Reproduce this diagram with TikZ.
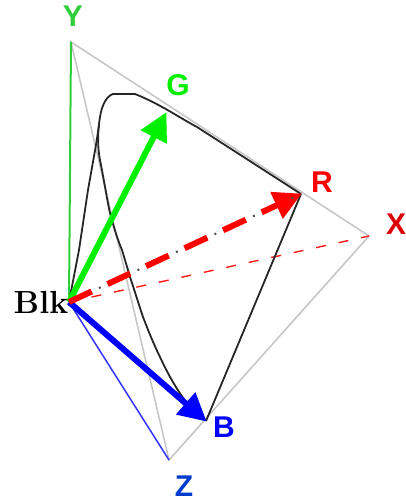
\documentclass[tikz,border=0pt]{standalone}
\usepackage{fontspec}
\setsansfont{Liberation Sans}
\usetikzlibrary{arrows.meta}
\definecolor{axisgreen}{RGB}{50,205,60}
\definecolor{axisred}{RGB}{220,0,10}
\definecolor{axisblue}{RGB}{0,60,205}
\definecolor{brightgreen}{RGB}{0,240,0}
\begin{document}
\begin{tikzpicture}[
  x=1pt, y=-1pt,
  letter/.style={font=\sffamily\bfseries\fontsize{30}{30}\selectfont, inner sep=0pt},
  edge/.style={line width=1.6pt, black!22},
  locus/.style={line width=1.8pt, black!85, line join=round},
  primary/.style={line width=6pt, -{Triangle[length=28pt,width=28pt]}, shorten >=-1pt}
]
  \useasboundingbox (0,0) rectangle (405,502);

  \coordinate (blk) at (69,302);
  \coordinate (yy) at (71,42);
  \coordinate (xx) at (369,236);
  \coordinate (zz) at (169,460);
  \coordinate (rr) at (301,194);
  \coordinate (gg) at (166,113);
  \coordinate (bb) at (206,421);

  % tristimulus triangle
  \draw[edge] (yy) -- (xx) -- (zz) -- cycle;
  \draw[line width=2pt, axisgreen] (blk) -- (yy);
  \draw[line width=1.4pt, red!90, dash pattern=on 10pt off 13pt] (blk) -- (xx);
  \draw[line width=1.5pt, blue!80] (blk) -- (zz);

  % spectrum locus
  \draw[locus] (blk) -- (79,250) -- (88,190) -- (96,145) -- (99,125);
  \draw[locus] (rr) -- (bb);
  \draw[locus] (rr) -- (197,127) .. controls (180,118) and (160,104) .. (135,94)
    -- (113,94) .. controls (107,96) and (102,104) .. (100,117)
    .. controls (97,135) and (98,150) .. (100,160)
    .. controls (104,180) and (108,205) .. (110,213)
    .. controls (115,232) and (119,243) .. (122,250)
    .. controls (125,260) and (128,270) .. (130,277)
    .. controls (135,292) and (139,305) .. (143,317)
    .. controls (148,330) and (154,345) .. (160,357)
    .. controls (167,372) and (175,387) .. (186,402);

  % primaries
  \draw[primary, brightgreen] (blk) -- (gg);
  \draw[primary, blue] (blk) -- (bb);
  \draw[primary, red, dash pattern=on 25pt off 17.5pt] (blk) -- (rr);
  \path[draw=black!70, line width=2pt, dash pattern=on 2pt off 40.5pt, dash phase=9.5pt] (blk) -- (rr);

  \node[letter, text=axisgreen] (ylabel) at (73,16) {Y};
  \node[letter, text=brightgreen] (glabel) at (178,85) {G};
  \node[letter, text=red] (rlabel) at (322,182) {R};
  \node[letter, text=axisred] (xlabel) at (396,224) {X};
  \node[letter, text=blue] (blabel) at (224,427) {B};
  \node[letter, text=axisblue] (zlabel) at (184,486) {Z};
  \node[inner sep=0pt, font=\fontsize{32}{32}\selectfont\bfseries\addfontfeatures{FakeBold=1.5}] (blklabel) at (41,302) {Blk};
\end{tikzpicture}
\end{document}
